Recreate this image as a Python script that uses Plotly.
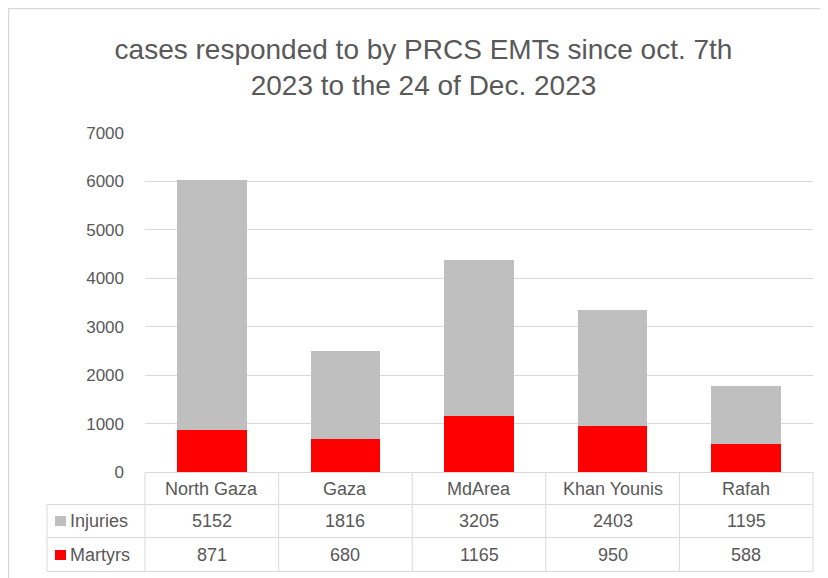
import plotly.graph_objects as go

categories = ["North Gaza", "Gaza", "MdArea", "Khan Younis", "Rafah"]
martyrs = [871, 680, 1165, 950, 588]
injuries = [5152, 1816, 3205, 2403, 1195]
series_names = ["Injuries", "Martyrs"]
y_ticks = [0, 1000, 2000, 3000, 4000, 5000, 6000, 7000]

W, H = 828, 578
OFF = 8  # page body margin
L, R, T, B = 145 - OFF, 813 - OFF, 133 - OFF, 472 - OFF  # plot area in figure pixels
FONT = "Liberation Sans, Arial, sans-serif"
GRAY_TXT = "#595959"
GRID = "#d9d9d9"
RED = "#ff0000"
LGRAY = "#bfbfbf"

def px(x):
    return (x - OFF - L) / (R - L)

def py(y):
    return (B - (y - OFF)) / (B - T)

fig = go.Figure()
fig.add_trace(go.Bar(x=categories, y=martyrs, name=series_names[1],
                     marker=dict(color=RED, line=dict(width=0)), width=0.52))
fig.add_trace(go.Bar(x=categories, y=injuries, name=series_names[0],
                     marker=dict(color=LGRAY, line=dict(width=0)), width=0.52))

shapes = []
annotations = []
line = dict(color=GRID, width=1)
# outer chart border (screen coords)
shapes.append(dict(type="rect", xref="paper", yref="paper", x0=px(8.5), x1=px(860),
                   y0=py(8.5), y1=py(620), line=dict(color="#d9d9d9", width=1.5)))
# table (screen coords)
row_y = [472.5, 504.5, 537.5, 571.5]
shapes.append(dict(type="line", xref="paper", yref="paper", x0=px(145), x1=px(813),
                   y0=py(row_y[0]), y1=py(row_y[0]), line=line))
for yy in row_y[1:]:
    shapes.append(dict(type="line", xref="paper", yref="paper", x0=px(47), x1=px(813),
                       y0=py(yy), y1=py(yy), line=line))
n = len(categories)
col_x = [145 + i * (813 - 145) / n for i in range(n + 1)]
for xx in col_x:
    shapes.append(dict(type="line", xref="paper", yref="paper", x0=px(xx), x1=px(xx),
                       y0=py(row_y[0]), y1=py(row_y[-1]), line=line))
shapes.append(dict(type="line", xref="paper", yref="paper", x0=px(47), x1=px(47),
                   y0=py(row_y[1]), y1=py(row_y[-1]), line=line))

tfont = dict(family=FONT, size=18, color=GRAY_TXT)
for i, c in enumerate(categories):
    cx = (col_x[i] + col_x[i + 1]) / 2
    annotations.append(dict(xref="paper", yref="paper", x=px(cx), y=py(489),
                            xanchor="center", yanchor="middle",
                            text=c, showarrow=False, font=tfont))
    for yy, val in [(521, injuries[i]), (555, martyrs[i])]:
        annotations.append(dict(xref="paper", yref="paper", x=px(cx), y=py(yy),
                                xanchor="center", yanchor="middle",
                                text=str(val), showarrow=False, font=tfont))
for yy, name, col in [(521, series_names[0], LGRAY), (555, series_names[1], RED)]:
    shapes.append(dict(type="rect", xref="paper", yref="paper", x0=px(55), x1=px(66),
                       y0=py(yy - 5), y1=py(yy + 5), fillcolor=col, line=dict(width=0)))
    annotations.append(dict(xref="paper", yref="paper", x=px(68), y=py(yy),
                            xanchor="left", yanchor="middle", text=name,
                            showarrow=False, font=tfont))

fig.update_layout(
    width=W, height=H, autosize=False,
    margin=dict(l=L, r=W - R, t=T, b=H - B, pad=0),
    paper_bgcolor="white", plot_bgcolor="white",
    barmode="stack", showlegend=False,
    title=dict(text="cases responded to by PRCS EMTs since oct. 7th<br>2023 to the 24 of Dec. 2023",
               x=(423.5 - OFF) / W, xanchor="center", y=1 - (59 - OFF) / H, yanchor="middle",
               font=dict(family=FONT, size=28, color=GRAY_TXT)),
    xaxis=dict(showticklabels=False, showline=False, showgrid=False, ticks="",
               range=[-0.5, n - 0.5]),
    yaxis=dict(range=[0, 7000], tickvals=y_ticks, showgrid=True, gridcolor=GRID,
               gridwidth=1, zeroline=False, showline=False, ticks="", ticklen=0,
               tickfont=dict(family=FONT, size=17, color=GRAY_TXT)),
    shapes=shapes, annotations=annotations,
    font=dict(family=FONT),
)
fig.update_yaxes(ticklabelstandoff=20)

fig.write_html("out.html")
